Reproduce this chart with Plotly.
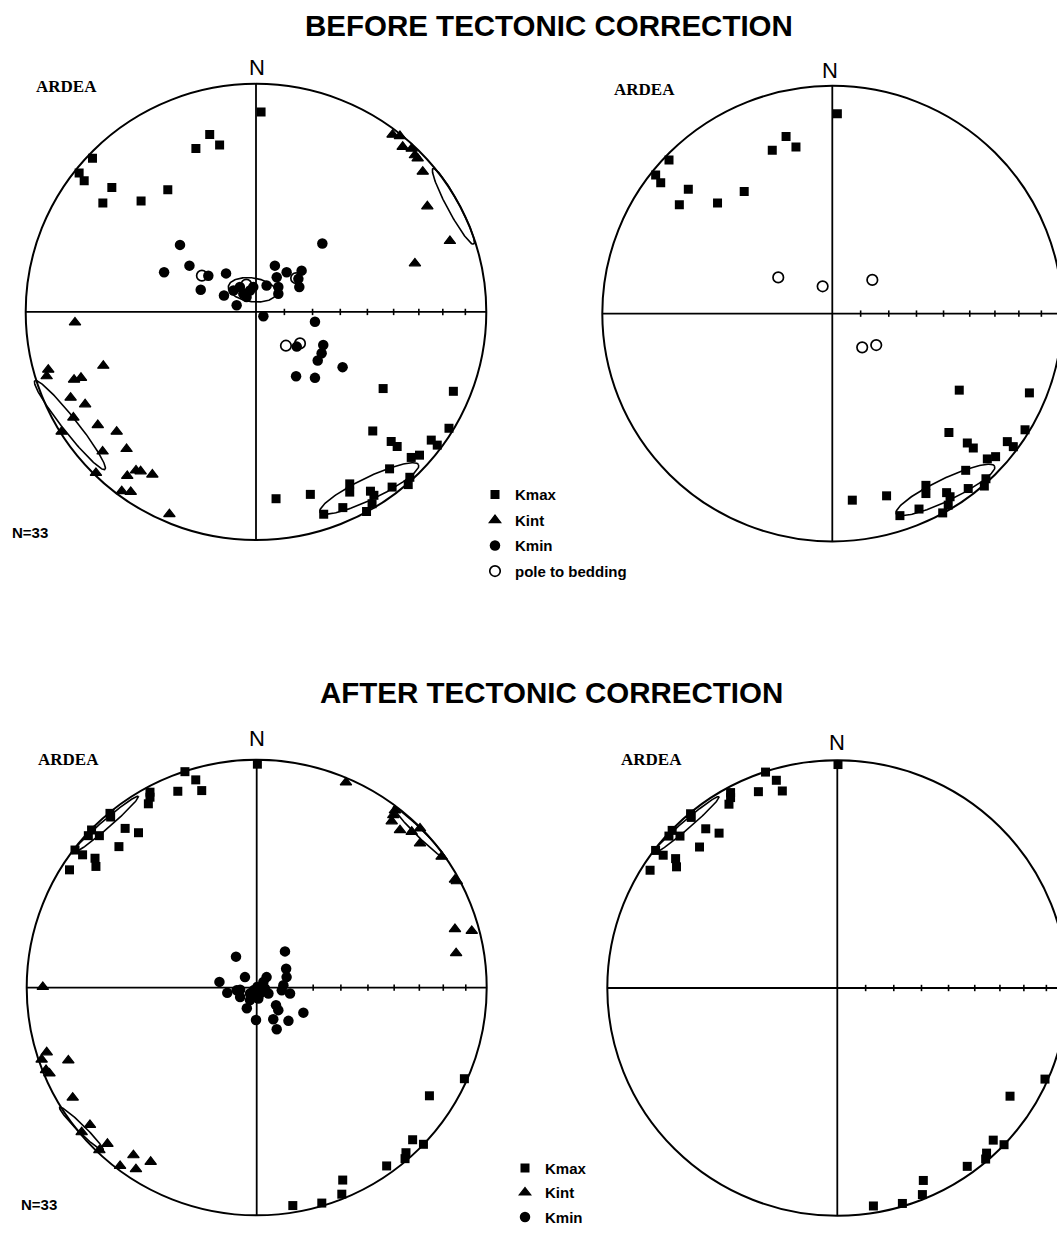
import numpy as np
import plotly.graph_objects as go

W, H = 1057, 1234

# ---------------- data: east / north positions on the equal-area net, in % of net radius -------------
# BEFORE tectonic correction
before_kmax_e = [2.2, -20.1, -26.1, -15.8, -71.0, -76.8, -74.6, -62.6, -66.5, -49.9, -38.3,
                 55.2, 85.7, 50.7, 58.7, 61.3, 76.1, 78.7, 83.8, 67.4, 71.0, 58.0, 40.7, 40.7,
                 49.7, 51.2, 50.4, 59.1, 66.8, 66.1, 23.6, 8.7, 37.7, 29.4, 48.0]
before_kmax_n = [87.7, 77.8, 71.7, 73.2, 67.4, 60.9, 57.5, 54.6, 47.8, 48.6, 53.6,
                 -33.6, -34.8, -52.2, -56.8, -59.0, -56.2, -58.4, -51.0, -63.8, -62.8, -68.8, -75.4, -79.0,
                 -78.6, -80.4, -84.1, -76.8, -72.5, -75.7, -80.0, -81.9, -85.8, -88.7, -87.5]

before_kint_e = [59.3, 62.5, 63.7, 67.6, 69.0, 70.2, 72.4, 74.4, 84.2, 69.0,
                 -78.6, -90.2, -90.9, -66.3, -79.0, -76.0, -80.5, -74.2, -79.3, -84.4, -68.7,
                 -60.5, -66.6, -56.2, -52.1, -50.1, -45.0, -55.9, -69.5, -58.3, -54.4, -37.6]
before_kint_n = [77.7, 77.1, 72.4, 71.6, 68.7, 67.3, 61.5, 46.3, 31.1, 21.3,
                 -4.6, -25.3, -28.2, -23.6, -29.7, -28.9, -37.6, -40.5, -46.3, -52.5, -49.6,
                 -52.5, -61.2, -60.1, -69.5, -69.9, -71.3, -71.9, -70.6, -78.6, -78.9, -88.7]

before_kmin_e = [-33.0, 28.8, -39.9, -28.9, -20.7, -13.0, -24.0, -13.9, -8.4, -7.0, -5.5, -2.6,
                 -1.2, 4.6, 8.2, 9.0, 13.3, 19.8, 18.8, 9.7, 3.2, 25.6, 17.7, 29.2, 28.5, 26.8,
                 37.6, 17.4, 25.6, 18.4, 9.7, -9.8, -4.1]
before_kmin_n = [29.4, 30.0, 17.4, 20.3, 15.9, 16.9, 9.7, 7.2, 2.9, 10.9, 8.0, 9.4,
                 10.9, 11.6, 20.3, 15.2, 17.4, 18.1, 10.9, 10.9, -1.9, -4.3, -15.2, -14.5, -18.1, -21.3,
                 -24.2, -28.2, -28.9, 14.5, 8.0, 9.4, 6.5]

bedding_pole_e = [-23.5, -4.2, 17.4, 13.0, 19.1]
bedding_pole_n = [15.9, 12.0, 14.8, -14.8, -13.8]

# confidence ellipses (before): Kmin, Kint NE, Kint SW, Kmax SE
before_ell_e = [-1.6, 85.7, -80.8, 49.2]
before_ell_n = [9.7, 46.3, -49.6, -77.4]
before_ell_a = [10.5, 18.8, 24.7, 23.8]
before_ell_b = [5.2, 2.6, 3.2, 4.8]
before_ell_ang = [-8, -62, -52, 26]

# AFTER tectonic correction
after_kmax_e = [0.3, -31.2, -26.5, -23.9, -34.3, -46.4, -46.4, -47.1, -63.8, -63.5, -71.8,
                -73.2, -68.4, -57.2, -51.4, -59.9, -79.0, -75.7, -70.3, -69.9, -81.4,
                90.3, 75.1, 67.8, 72.5, 64.9, 64.5, 56.5, 37.4, 37.0, 28.3, 15.7]
after_kmax_n = [98.1, 94.8, 91.2, 86.5, 86.2, 85.8, 83.6, 80.7, 76.5, 74.9, 69.2,
                66.7, 66.7, 69.9, 68.0, 61.9, 60.4, 58.3, 56.8, 53.2, 51.7,
                -40.0, -47.5, -66.8, -68.8, -72.5, -75.1, -78.3, -84.5, -90.7, -94.6, -95.7]

after_kint_e = [38.8, 60.1, 59.4, 58.7, 62.3, 67.4, 71.0, 71.0, 80.4, 86.2, 87.0, 86.2, 93.5, 86.7,
                -93.0, -91.3, -93.5, -91.6, -90.1, -81.9, -80.0, -76.1, -72.5, -68.4, -64.9,
                -59.4, -53.6, -52.5, -46.1]
after_kint_n = [90.1, 77.8, 75.7, 73.0, 69.1, 68.4, 69.9, 63.3, 57.5, 47.4, 46.7, 25.7, 24.9, 15.1,
                0.3, -28.4, -31.6, -36.2, -37.7, -32.0, -48.3, -63.5, -60.3, -71.4, -68.6,
                -78.3, -73.6, -79.7, -76.5]

after_kmin_e = [-9.0, 12.3, -16.2, -12.8, -5.1, -7.2, -2.9, -1.4, 0.3, 2.9, 3.6, 5.1, 0.7, -2.9,
                -4.3, -0.3, 7.2, 8.7, 13.8, 20.3, 8.4, 9.4, 12.8, 13.0, 11.6, 14.5, 10.9, 1.4,
                4.3, -7.2, -8.7]
after_kmin_n = [13.6, 15.9, 2.5, -2.3, 4.6, -0.9, -2.6, -1.2, 0.3, 2.5, -0.4, -2.6, -4.8, -5.5,
                -9.1, -14.2, -13.9, -18.3, -14.6, -11.0, -7.7, -9.9, 8.3, 4.6, 1.0, -2.6, -1.2, -2.6,
                4.6, -4.1, -1.2]

# confidence ellipses (after): Kmax NW, Kint NE, Kint SW
after_ell_e = [-65.8, 70.7, -76.2]
after_ell_n = [71.5, 68.1, -62.0]
after_ell_a = [19.0, 15.9, 13.4]
after_ell_b = [1.8, 1.6, 1.6]
after_ell_ang = [41, -45, -45]

tick_inclinations = [80, 70, 60, 50, 40, 30, 20, 10]

titles = ["BEFORE TECTONIC CORRECTION", "AFTER TECTONIC CORRECTION"]
site_label = "ARDEA"
n_label = "N=33"

# ---------------- layout helpers -------------
panels = [
    dict(cx=256.0, cy=315.0, R=230.3, box=(0, 45, 535, 605)),
    dict(cx=832.3, cy=316.7, R=230.0, box=(560, 45, 1057, 605)),
    dict(cx=256.7, cy=997.3, R=230.0, box=(0, 725, 535, 1234)),
    dict(cx=837.3, cy=997.7, R=230.0, box=(560, 725, 1057, 1234)),
]

fig = go.Figure()
layout = dict(width=W, height=H, margin=dict(l=0, r=0, t=0, b=0),
              paper_bgcolor="white", plot_bgcolor="white", shapes=[], annotations=[])

tick_r = [100 * np.sqrt(2) * np.sin(np.radians((90 - i) / 2)) for i in tick_inclinations]

for i, p in enumerate(panels):
    sfx = "" if i == 0 else str(i + 1)
    x0, y0, x1, y1 = p["box"]
    cx, cy, R = p["cx"], p["cy"], p["R"]
    layout["xaxis" + sfx] = dict(domain=[x0 / W, x1 / W],
                                 range=[(x0 - cx) / R * 100, (x1 - cx) / R * 100],
                                 visible=False, anchor="y" + sfx, fixedrange=True)
    layout["yaxis" + sfx] = dict(domain=[1 - y1 / H, 1 - y0 / H],
                                 range=[(cy - y1) / R * 100, (cy - y0) / R * 100],
                                 visible=False, anchor="x" + sfx, fixedrange=True)
    xr, yr = "x" + sfx, "y" + sfx
    ln = dict(color="black", width=1.8)
    layout["shapes"].append(dict(type="circle", xref=xr, yref=yr, x0=-100, x1=100, y0=-100, y1=100,
                                 line=dict(color="black", width=2)))
    layout["shapes"].append(dict(type="line", xref=xr, yref=yr, x0=-100, x1=100, y0=0, y1=0, line=ln))
    layout["shapes"].append(dict(type="line", xref=xr, yref=yr, x0=0, x1=0, y0=-100, y1=100, line=ln))
    for r in tick_r:
        layout["shapes"].append(dict(type="line", xref=xr, yref=yr, x0=r, x1=r, y0=-1.4, y1=1.4,
                                     line=dict(color="black", width=1.6)))

SQ = dict(symbol="square", size=9, color="black")
TR = dict(symbol="triangle-up", size=10, color="black", line=dict(color="black", width=1.2))
CI = dict(symbol="circle", size=10.5, color="black")
OC = dict(symbol="circle-open", size=10.5, color="black", line=dict(color="black", width=1.7))


def pts(xs, ys, marker, ax, name=None, legend=None):
    sfx = "" if ax == 0 else str(ax + 1)
    fig.add_trace(go.Scatter(x=xs, y=ys, mode="markers", marker=marker, name=name,
                             xaxis="x" + sfx, yaxis="y" + sfx,
                             showlegend=legend is not None, legend=legend or "legend",
                             legendgroup=(name or "") + (legend or ""), hoverinfo="skip"))


def ellipses(ce, cn, a, b, ang, ax, which=None):
    sfx = "" if ax == 0 else str(ax + 1)
    t = np.linspace(0, 2 * np.pi, 160)
    idx = range(len(ce)) if which is None else which
    for k in idx:
        th = np.radians(ang[k])
        x = ce[k] + a[k] * np.cos(t) * np.cos(th) - b[k] * np.sin(t) * np.sin(th)
        y = cn[k] + a[k] * np.cos(t) * np.sin(th) + b[k] * np.sin(t) * np.cos(th)
        fig.add_trace(go.Scatter(x=x, y=y, mode="lines", line=dict(color="black", width=1.6),
                                 xaxis="x" + sfx, yaxis="y" + sfx, showlegend=False, hoverinfo="skip"))


# panel 1 : before, all axes
ellipses(before_ell_e, before_ell_n, before_ell_a, before_ell_b, before_ell_ang, 0)
pts(before_kmax_e, before_kmax_n, SQ, 0, "Kmax", "legend")
pts(before_kint_e, before_kint_n, TR, 0, "Kint", "legend")
pts(before_kmin_e, before_kmin_n, CI, 0, "Kmin", "legend")
pts(bedding_pole_e, bedding_pole_n, OC, 0, "pole to bedding", "legend")
# panel 2 : before, Kmax + bedding poles
ellipses(before_ell_e, before_ell_n, before_ell_a, before_ell_b, before_ell_ang, 1, which=[3])
pts(before_kmax_e, before_kmax_n, SQ, 1)
pts(bedding_pole_e, bedding_pole_n, OC, 1)
# panel 3 : after, all axes
ellipses(after_ell_e, after_ell_n, after_ell_a, after_ell_b, after_ell_ang, 2)
pts(after_kmax_e, after_kmax_n, SQ, 2, "Kmax", "legend2")
pts(after_kint_e, after_kint_n, TR, 2, "Kint", "legend2")
pts(after_kmin_e, after_kmin_n, CI, 2, "Kmin", "legend2")
# panel 4 : after, Kmax
ellipses(after_ell_e, after_ell_n, after_ell_a, after_ell_b, after_ell_ang, 3, which=[0])
pts(after_kmax_e, after_kmax_n, SQ, 3)

legfont = dict(family="Liberation Sans, Arial, sans-serif", size=15, color="black", weight="bold")
layout["legend"] = dict(x=475 / W, y=1 - 483 / H, xanchor="left", yanchor="top",
                        bgcolor="rgba(0,0,0,0)", font=legfont, traceorder="grouped",
                        tracegroupgap=3, itemsizing="trace")
layout["legend2"] = dict(x=505 / W, y=1 - 1163 / H, xanchor="left", yanchor="top",
                         bgcolor="rgba(0,0,0,0)", font=legfont, traceorder="grouped",
                         tracegroupgap=2, itemsizing="trace")


def ann(text, x, y, size, family, bold=False):
    layout["annotations"].append(dict(text=("<b>%s</b>" % text) if bold else text,
                                      x=x / W, y=1 - y / H, xref="paper", yref="paper",
                                      xanchor="center", yanchor="middle", showarrow=False,
                                      font=dict(size=size, family=family, color="black")))


SANS = "Liberation Sans, Arial, sans-serif"
SERIF = "Liberation Serif, Times New Roman, serif"
ann(titles[0], 549, 26, 29.5, SANS, True)
ann(titles[1], 551, 699, 29.5, SANS, True)
for (x, y) in [(257, 68), (830, 71), (257, 746), (837, 750)]:
    ann("N", x, y, 22, SANS)
for (x, y) in [(66, 87), (644, 90), (68, 767), (651, 767)]:
    ann(site_label, x, y, 17, SERIF, True)
ann(n_label, 30, 538, 15, SANS, True)
ann(n_label, 39, 1216, 15, SANS, True)

fig.update_layout(**layout)
fig.write_html("out.html", config={"displayModeBar": False},
               post_script="document.body.style.margin='0';document.body.style.overflow='hidden';")
